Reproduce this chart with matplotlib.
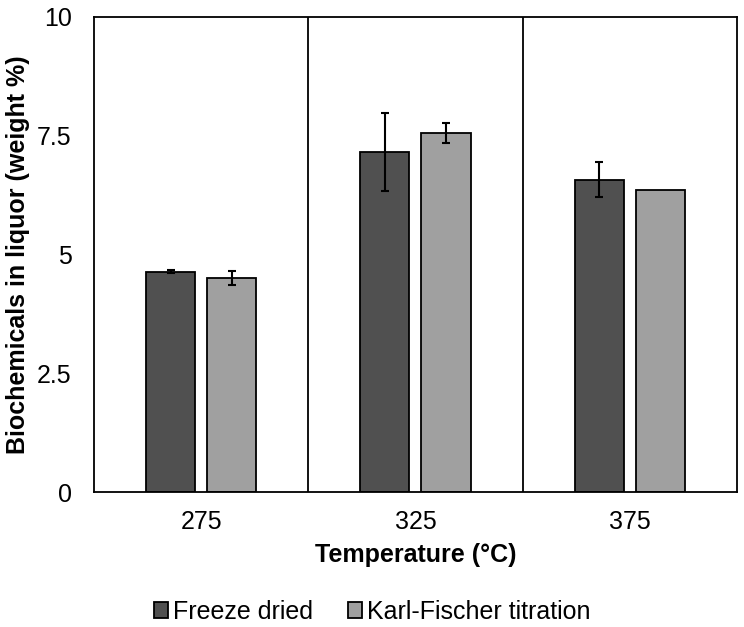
import matplotlib
matplotlib.use("Agg")
import matplotlib.pyplot as plt
import numpy as np

plt.rcParams['font.family'] = ['Liberation Sans', 'DejaVu Sans']

categories = ["275", "325", "375"]
freeze_dried = [4.64, 7.15, 6.57]
freeze_err = [0.04, 0.82, 0.37]
karl_fischer = [4.51, 7.55, 6.35]
karl_err = [0.15, 0.21, 0.0]
yticks = [0, 2.5, 5, 7.5, 10]
ytick_labels = ["0", "2.5", "5", "7.5", "10"]

fig = plt.figure(figsize=(7.44, 6.27), dpi=100)
ax = fig.add_axes([0.1263, 0.2153, 0.8643, 0.7576])

x = np.arange(len(categories))
w = 0.229
off = 0.1425
ekw = dict(ecolor="black", elinewidth=1.5, capsize=3, capthick=1.5)
ax.bar(x - off, freeze_dried, w, color="#505050", edgecolor="black", linewidth=1.3,
       yerr=freeze_err, error_kw=ekw, label="Freeze dried", zorder=2)
kerr = [e if e > 0 else np.nan for e in karl_err]
ax.bar(x + off, karl_fischer, w, color="#A0A0A0", edgecolor="black", linewidth=1.3,
       yerr=kerr, error_kw=ekw, label="Karl-Fischer titration", zorder=2)

for b in [0.5, 1.5]:
    ax.axvline(b, color="black", linewidth=1.3, zorder=1)

ax.set_xlim(-0.5, 2.5)
ax.set_ylim(0, 10)
ax.set_xticks(x)
ax.set_xticklabels(categories)
ax.set_yticks(yticks)
ax.set_yticklabels(ytick_labels)
ax.tick_params(axis="x", length=0, labelsize=18, pad=13)
ax.tick_params(axis="y", length=0, labelsize=18, pad=16)
for s in ax.spines.values():
    s.set_linewidth(1.3)

ax.set_xlabel("Temperature (°C)", fontsize=18, fontweight="bold")
ax.set_ylabel("Biochemicals in liquor (weight %)", fontsize=18, fontweight="bold")
ax.xaxis.set_label_coords(0.5, -0.108)
ax.yaxis.set_label_coords(-0.0995, 0.5)

fig.legend(loc="lower center", bbox_to_anchor=(0.5, 0.005), ncol=2, frameon=False,
           fontsize=18, handlelength=0.56, handleheight=0.56, handletextpad=0.2,
           columnspacing=1.4, borderpad=0, borderaxespad=0)

fig.savefig("out.png", dpi=100)
